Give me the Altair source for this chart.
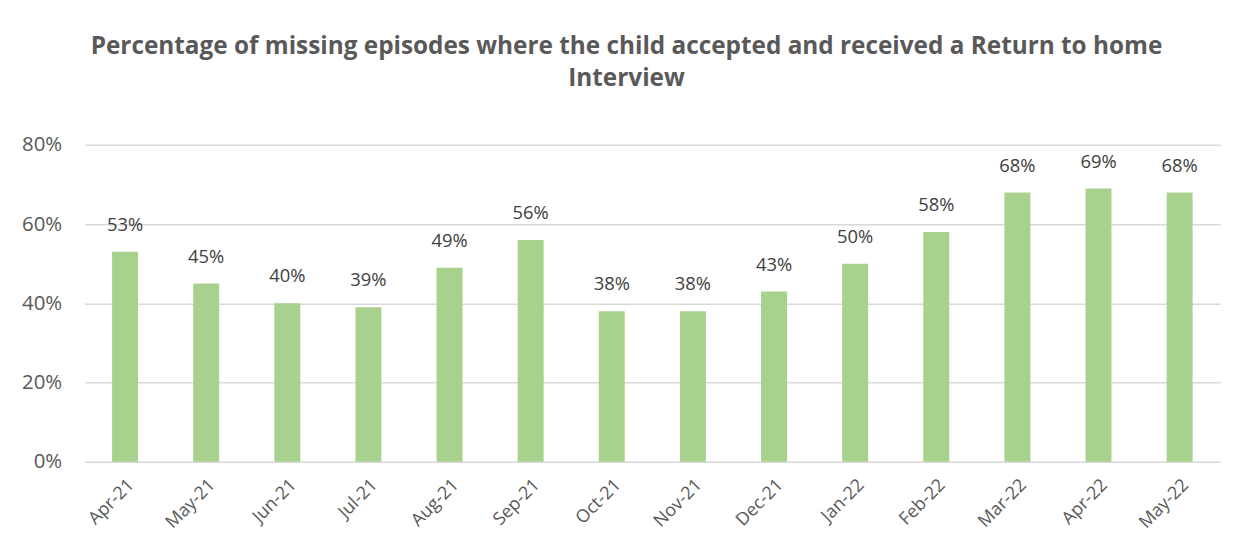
import altair as alt
import pandas as pd

months = ["Apr-21", "May-21", "Jun-21", "Jul-21", "Aug-21", "Sep-21", "Oct-21",
          "Nov-21", "Dec-21", "Jan-22", "Feb-22", "Mar-22", "Apr-22", "May-22"]
values = [0.53, 0.45, 0.40, 0.39, 0.49, 0.56, 0.38, 0.38, 0.43, 0.50, 0.58, 0.68, 0.69, 0.68]

df = pd.DataFrame({"month": months, "value": values})

FONT = "Open Sans"

x = alt.X("month:N", sort=months, title=None,
          scale=alt.Scale(paddingInner=0.68, paddingOuter=0.34),
          axis=alt.Axis(labelAngle=-45, labelFontSize=18, labelColor="#595959",
                        labelFont=FONT, domain=False, ticks=False, labelPadding=14,
                        labelAlign="right", labelBaseline="top"))
y = alt.Y("value:Q", title=None,
          scale=alt.Scale(domain=[0, 0.8]),
          axis=alt.Axis(values=[0, 0.2, 0.4, 0.6, 0.8], format=".0%", labelFontSize=20.5,
                        labelColor="#595959", labelFont=FONT, domain=False, ticks=False,
                        labelPadding=23, gridColor="#D9D9D9", gridWidth=1.5))

bars = alt.Chart(df).mark_bar(color="#A9D18E").encode(x=x, y=y)
labels = alt.Chart(df).mark_text(fontSize=18.5, color="#404040", font=FONT, dy=-21,
                                 baseline="alphabetic").encode(
    x=alt.X("month:N", sort=months), y="value:Q", text=alt.Text("value:Q", format=".0%"))

chart = (bars + labels).properties(
    width=1143, height=319,
    title=alt.TitleParams(
        ["Percentage of missing episodes where the child accepted and received a Return to home",
         "Interview"],
        fontSize=24.5, font=FONT, fontWeight="bold", color="#595959",
        anchor="middle", dx=-26, lineHeight=32, offset=44),
    autosize=alt.AutoSizeParams(type="none"),
    padding={"left": 77, "top": 136, "right": 30, "bottom": 80},
).configure_view(stroke=None)

chart.save("out.html", embed_options={"renderer": "svg", "actions": False})
